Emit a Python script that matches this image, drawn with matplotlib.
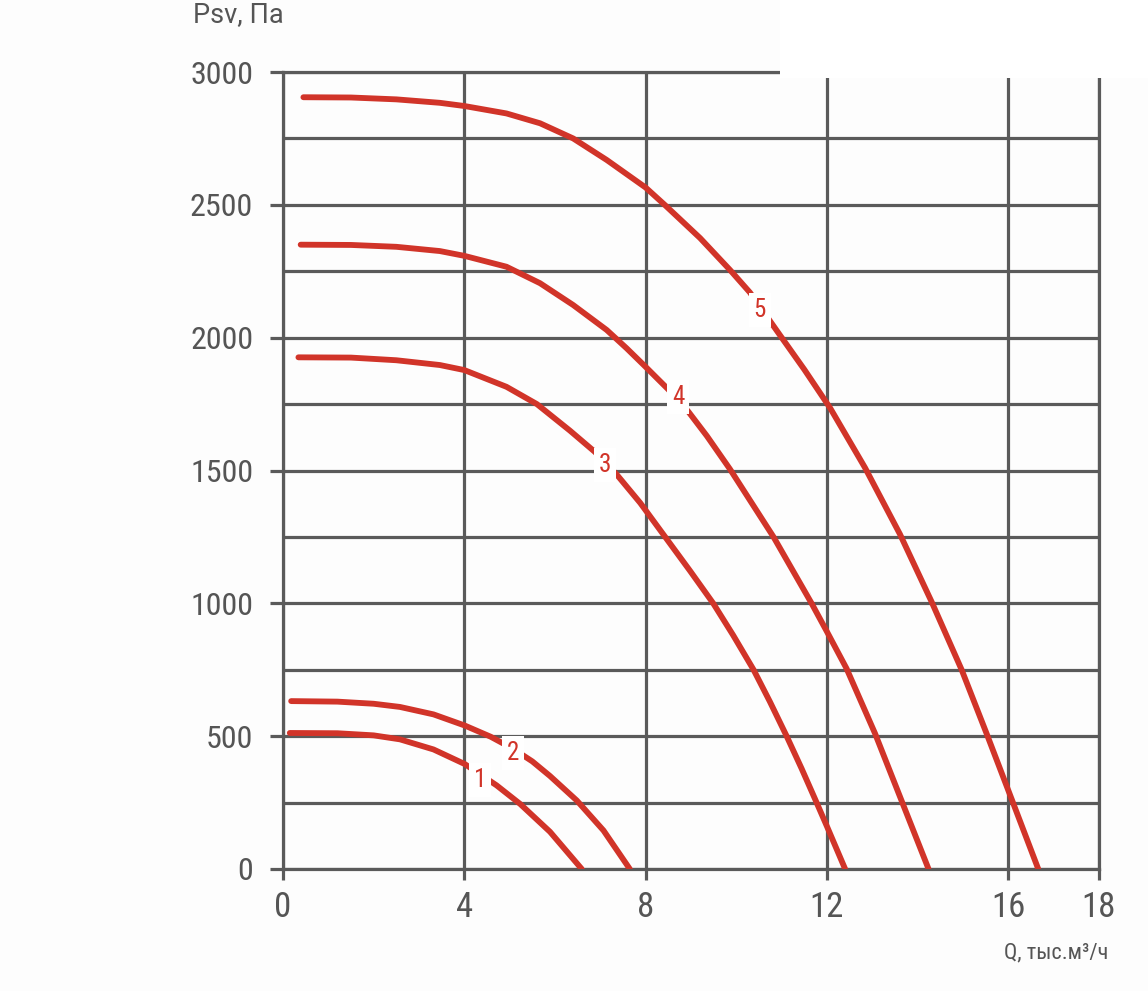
import matplotlib
matplotlib.use("Agg")
import matplotlib.pyplot as plt
from matplotlib.patches import Rectangle
from matplotlib.ticker import MultipleLocator
from matplotlib import font_manager as fm

# ---- data ----
q1 = [0.15, 1.2, 2.0, 2.58, 3.32, 4.01, 4.71, 5.23, 5.89, 6.59]
p1 = [512, 511, 503, 488, 450, 395, 315, 245, 140, 0]

q2 = [0.18, 1.2, 2.0, 2.58, 3.32, 4.01, 4.58, 5.08, 5.5, 5.89, 6.48, 7.07, 7.65]
p2 = [632, 630, 622, 610, 582, 540, 498, 452, 405, 350, 258, 145, 0]

q3 = [0.34, 1.5, 2.5, 3.46, 4.0, 4.93, 5.6, 6.33, 6.88, 7.36, 7.88, 8.43, 8.98, 9.49,
      9.93, 10.38, 10.74, 11.11, 11.44, 11.74, 12.0, 12.4]
p3 = [1926, 1925, 1915, 1897, 1878, 1815, 1750, 1650, 1570, 1485, 1378, 1250, 1122, 1000,
      880, 750, 630, 500, 378, 262, 160, 0]

q4 = [0.39, 1.5, 2.5, 3.46, 4.0, 4.93, 5.67, 6.40, 7.14, 7.58, 8.0, 8.5, 8.94, 9.35, 9.86,
      10.82, 11.66, 12.0, 12.43, 13.06, 13.65, 14.24]
p4 = [2350, 2349, 2342, 2326, 2308, 2267, 2205, 2123, 2029, 1960, 1890, 1805, 1722, 1630, 1505,
      1250, 1000, 893, 755, 510, 255, 0]

q5 = [0.45, 1.5, 2.5, 3.46, 4.0, 4.93, 5.67, 6.40, 7.14, 8.0, 8.42, 9.2, 9.86, 10.3, 10.96,
      11.5, 12.07, 12.84, 13.61, 14.31, 14.97, 15.52, 16.08, 16.66]
p5 = [2905, 2904, 2897, 2884, 2872, 2844, 2807, 2750, 2669, 2565, 2500, 2375, 2255, 2170, 2010,
      1880, 1735, 1510, 1260, 1005, 750, 510, 260, 0]

curve_names = ['1', '2', '3', '4', '5']
label_q = [4.35, 5.08, 7.1, 8.72, 10.52]
label_p = [335, 435, 1521, 1778, 2104]

x_ticks = [0, 4, 8, 12, 16, 18]
y_ticks = [0, 500, 1000, 1500, 2000, 2500, 3000]

# ---- fonts: prefer a condensed face if one is installed ----
cond_path = None
prefs = ['robotocondensed-regular', 'liberationsansnarrow-regular', 'dejavusanscondensed.',
         'opensans_condensed-regular', 'opensans-condensedregular']
files = [f.fname for f in fm.fontManager.ttflist]
for pref in prefs:
    for fn in files:
        if pref in fn.lower().replace(' ', ''):
            cond_path = fn
            break
    if cond_path:
        break


def cfont(size):
    if cond_path:
        return fm.FontProperties(fname=cond_path, size=size)
    return fm.FontProperties(family=['Roboto', 'DejaVu Sans'], size=size)


# ---- styles ----
W, H = 1148, 991
GRID = '#5a5a5a'
RED = '#d13429'
TXT = '#555555'

fig = plt.figure(figsize=(W / 100, H / 100), dpi=100, facecolor='#fdfdfd')
ax = fig.add_axes([283 / W, 1 - 869 / H, (1099 - 283) / W, (869 - 72) / H])
ax.set_facecolor('#fdfdfd')

ax.set_xlim(0, 18)
ax.set_ylim(0, 3000)
ax.set_xticks(x_ticks)
ax.set_yticks(y_ticks)
ax.yaxis.set_minor_locator(MultipleLocator(250))

lw_grid = 2.3
ax.grid(True, axis='x', which='major', color=GRID, lw=lw_grid)
ax.grid(True, axis='y', which='both', color=GRID, lw=lw_grid)
ax.set_axisbelow(True)
for s in ax.spines.values():
    s.set_color(GRID)
    s.set_linewidth(lw_grid)

ax.tick_params(axis='x', which='major', length=8, width=lw_grid, color=GRID,
               labelcolor=TXT, pad=8)
ax.tick_params(axis='y', which='major', length=9.5, width=lw_grid, color=GRID,
               labelcolor=TXT, pad=12)
ax.tick_params(axis='y', which='minor', length=0)
for lab in ax.get_xticklabels():
    lab.set_fontproperties(cfont(25))
for lab in ax.get_yticklabels():
    lab.set_fontproperties(cfont(23))

for q, p in [(q1, p1), (q2, p2), (q3, p3), (q4, p4), (q5, p5)]:
    ax.plot(q, p, color=RED, lw=4.2, solid_capstyle='round', solid_joinstyle='round', zorder=3)

for name, lq, lp in zip(curve_names, label_q, label_p):
    ax.text(lq, lp, name, color=RED, ha='center', va='center', zorder=5,
            fontproperties=cfont(18),
            bbox=dict(boxstyle='square,pad=0.2', fc='white', ec='none'))

# axis titles
fig.text(193 / W, 1 - 15 / H, 'Psv, Па', fontsize=19.5, color=TXT, ha='left', va='center',
         family=['Roboto', 'DejaVu Sans'])
fig.text(1108 / W, 1 - 953 / H, 'Q, тыс.м³/ч', color=TXT, ha='right', va='center',
         fontproperties=cfont(16))

# white block at top right
fig.patches.append(Rectangle((780 / W, 1 - 78 / H), (W - 780) / W, 78 / H,
                             transform=fig.transFigure, fc='white', ec='none', zorder=10))

fig.savefig('out.png', dpi=100, facecolor=fig.get_facecolor())
